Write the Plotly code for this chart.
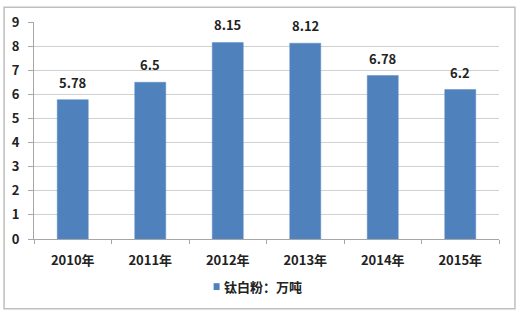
import plotly.graph_objects as go

categories = ["2010年", "2011年", "2012年", "2013年", "2014年", "2015年"]
values = [5.78, 6.5, 8.15, 8.12, 6.78, 6.2]
value_labels = ["5.78", "6.5", "8.15", "8.12", "6.78", "6.2"]
series_name = "钛白粉：万吨"
y_ticks = [0, 1, 2, 3, 4, 5, 6, 7, 8, 9]

FONT = "Noto Sans CJK SC"
L, R, T, B = 33, 21, 18, 75
W, H = 520, 314
pw, ph = W - L - R, H - T - B
BAR = "#4F81BD"

def px(x):
    return (x - L) / pw

def py(y):
    return (H - B - y) / ph

fig = go.Figure()
fig.add_trace(go.Bar(
    x=categories, y=values, name=series_name,
    marker=dict(color=BAR, line=dict(color="#5B8CC6", width=0.5)),
    width=0.4, showlegend=False,
))

annotations = [
    dict(x=c, y=v, text=t, xref="x", yref="y", showarrow=False,
         yanchor="bottom", yshift=6,
         font=dict(family=FONT, size=13, color="#222222", weight="bold"))
    for c, v, t in zip(categories, values, value_labels)
]
annotations.append(dict(
    x=px(221), y=py(287), xref="paper", yref="paper", text=series_name,
    showarrow=False, xanchor="left", yanchor="middle",
    font=dict(family=FONT, size=13, color="#222222", weight="bold"),
))

fig.update_layout(
    width=W, height=H,
    margin=dict(l=L, r=R, t=T, b=B),
    paper_bgcolor="white", plot_bgcolor="white",
    bargap=0.6,
    annotations=annotations,
    xaxis=dict(
        type="category", showline=True, linecolor="#A6A6A6", linewidth=1,
        ticks="outside", ticklen=4, tickcolor="#A6A6A6", tickson="boundaries",
        tickfont=dict(family=FONT, size=13, color="#222222", weight="bold"),
        ticklabelstandoff=9, showgrid=False,
    ),
    yaxis=dict(
        range=[0, 9], tickvals=y_ticks, ticktext=[str(v) for v in y_ticks],
        showline=True, linecolor="#A6A6A6", linewidth=1,
        ticks="outside", ticklen=5, tickcolor="#A6A6A6",
        showgrid=True, gridcolor="#D0D0D0", gridwidth=1,
        tickfont=dict(family=FONT, size=13, color="#222222", weight="bold"),
        ticklabelstandoff=6, zeroline=False,
    ),
    shapes=[
        dict(type="rect", xref="paper", yref="paper",
             x0=px(3), x1=px(515), y0=py(310), y1=py(3),
             line=dict(color="#BFBFBF", width=1.5), layer="below"),
        dict(type="rect", xref="paper", yref="paper",
             x0=px(213), x1=px(219), y0=py(291), y1=py(284),
             fillcolor=BAR, line=dict(width=0)),
    ],
)

fig.write_html("out.html")
